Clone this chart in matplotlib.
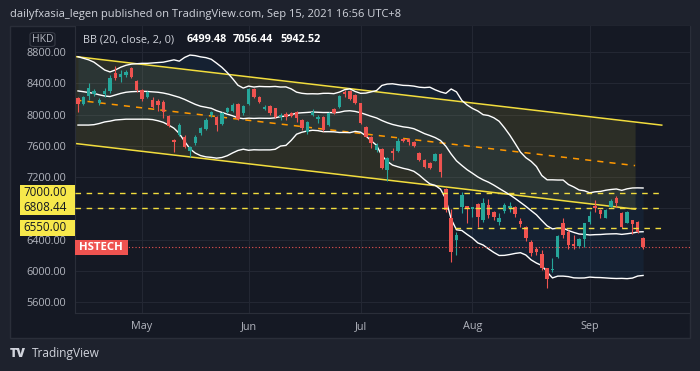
import matplotlib
matplotlib.use("Agg")
import matplotlib.pyplot as plt
from matplotlib.patches import Rectangle, FancyBboxPatch
from matplotlib.transforms import blended_transform_factory
import numpy as np
import pandas as pd

# daily candles, HSTECH, 15 Apr 2021 .. 15 Sep 2021 (index = trading day)
opens = [8207, 8134, 8237, 8262, 8151, 8262, 8301, 8527, 8476, 8506, 8591, 8429, 8314, 8230, 8186, 8173,
         8160, 7981, 7680, 7744, 7718, 7533, 7631, 7757, 7814, 8000, 7968, 7878, 8036, 8051, 8130, 8019,
         8138, 8323, 8230, 8066, 8113, 8079, 7972, 8006, 8015, 8036, 7930, 7780, 7994, 7938, 7964, 7866,
         8066, 8100, 8292, 8301, 8250, 8143, 7840, 7708, 7546, 7555, 7296, 7537, 7539, 7683, 7683, 7652,
         7507, 7418, 7383, 7411, 7490, 7042, 6671, 6394, 6812, 6829, 6787, 6850, 6650, 6842, 6756, 6620,
         6769, 6799, 6812, 6637, 6564, 6372, 6274, 6214, 6031, 6010, 6172, 6607, 6500, 6342, 6317, 6403,
         6620, 6829, 6778, 6679, 6820, 6927, 6735, 6615, 6650, 6628, 6423]
highs = [8228, 8237, 8399, 8326, 8211, 8339, 8506, 8621, 8570, 8570, 8608, 8442, 8326, 8301, 8224, 8198,
         8186, 7994, 7686, 7891, 7738, 7597, 7738, 7840, 7955, 8051, 7981, 8036, 8100, 8143, 8143, 8122,
         8335, 8335, 8243, 8122, 8122, 8089, 8015, 8036, 8032, 8045, 7938, 7921, 8066, 7994, 7981, 8036,
         8083, 8250, 8314, 8314, 8262, 8147, 7853, 7725, 7629, 7571, 7456, 7567, 7695, 7693, 7699, 7667,
         7514, 7430, 7396, 7503, 7501, 7059, 6787, 6500, 7012, 6835, 6822, 6863, 6927, 6915, 6765, 6743,
         6863, 6884, 6829, 6671, 6573, 6393, 6308, 6266, 6035, 6159, 6458, 6671, 6522, 6458, 6419, 6611,
         6765, 6906, 6786, 6790, 6915, 6957, 6746, 6765, 6656, 6643, 6436]
lows = [8028, 8122, 8186, 8237, 8122, 8224, 8275, 8442, 8416, 8480, 8467, 8288, 8179, 8211, 8083, 8045,
        7955, 7840, 7524, 7725, 7571, 7450, 7610, 7738, 7802, 7974, 7793, 7866, 8023, 8036, 7930, 7994,
        8122, 8207, 8147, 8053, 7994, 7955, 7930, 7930, 7968, 7908, 7801, 7750, 7981, 7887, 7795, 7853,
        8006, 8089, 8228, 8186, 8134, 7878, 7706, 7571, 7524, 7298, 7153, 7418, 7524, 7648, 7610, 7590,
        7405, 7311, 7302, 7405, 7204, 6756, 6116, 6202, 6735, 6615, 6692, 6564, 6628, 6671, 6650, 6586,
        6735, 6756, 6684, 6564, 6385, 6189, 6202, 6010, 5775, 5988, 6163, 6415, 6275, 6275, 6287, 6308,
        6598, 6756, 6671, 6671, 6812, 6812, 6543, 6607, 6465, 6479, 6282]
closes = [8130, 8220, 8339, 8305, 8192, 8307, 8467, 8467, 8518, 8544, 8480, 8314, 8198, 8288, 8100, 8122,
          8032, 7859, 7654, 7866, 7590, 7580, 7718, 7823, 7930, 8036, 7866, 8015, 8079, 8128, 7946, 8109,
          8323, 8224, 8160, 8100, 8023, 7972, 7994, 7964, 7981, 7951, 7823, 7908, 8036, 7972, 7801, 8023,
          8015, 8237, 8258, 8198, 8147, 7887, 7716, 7631, 7610, 7311, 7439, 7511, 7661, 7657, 7652, 7603,
          7418, 7328, 7318, 7494, 7268, 6784, 6244, 6458, 6970, 6787, 6812, 6692, 6863, 6714, 6692, 6671,
          6842, 6829, 6722, 6595, 6415, 6223, 6244, 6035, 5891, 6022, 6449, 6458, 6330, 6317, 6403, 6607,
          6701, 6799, 6726, 6778, 6893, 6863, 6564, 6756, 6598, 6500, 6300]

# BB values for the first 19 days (their 20-day window starts before the chart)
bb_upper_early = [8740, 8720, 8700, 8670, 8620, 8570, 8545, 8570, 8605, 8630, 8645, 8650, 8655, 8655,
                  8660, 8665, 8670, 8685, 8700]
bb_mid_early = [8302, 8292, 8282, 8270, 8252, 8237, 8230, 8250, 8270, 8285, 8292, 8295, 8297, 8295,
                8290, 8285, 8275, 8260, 8240]
bb_lower_early = [7865, 7865, 7865, 7870, 7885, 7905, 7915, 7930, 7935, 7940, 7940, 7940, 7940, 7940,
                  7935, 7920, 7900, 7865, 7825]

month_pos = [12, 32, 53, 74, 96]
month_labels = ["May", "Jun", "Jul", "Aug", "Sep"]
price_ticks = [5600, 6000, 6400, 7200, 7600, 8000, 8400, 8800]

# parallel channel (drawn)
chan_x = [-0.5, 104.5]
chan_top = [8742, 7903]
chan_bottom = [7629, 6789]
top_ext_x = [-0.5, 109.5]
top_ext = [8742, 7864]

levels = [7000, 6808.44, 6550]
level_start = [-0.5, -0.5, 70.7]
level_end = 109.6
level_labels = ["7000.00", "6808.44", "6550.00"]

# ---- BB(20, close, 2)
c = pd.Series(closes, dtype=float)
mid = c.rolling(20).mean().values
sd = c.rolling(20).std(ddof=0).values
upper = mid + 2 * sd
lower = mid - 2 * sd
n0 = len(bb_mid_early)
mid[:n0] = bb_mid_early
upper[:n0] = bb_upper_early
lower[:n0] = bb_lower_early

page = "#1e222d"
panel = "#151924"
grid = "#232733"
txt = "#b2b5be"
up_c = "#26a69a"
dn_c = "#ef5350"
yellow = "#f2dd3d"

W, H = 700, 371
fig = plt.figure(figsize=(7, 3.71), dpi=100)
fig.patch.set_facecolor(page)
plt.rcParams['font.family'] = ['Open Sans', 'DejaVu Sans']

fig.patches.append(Rectangle((10 / W, 1 - 338 / H), 680 / W, 312 / H, transform=fig.transFigure,
                             facecolor=panel, edgecolor="#2a2e39", lw=1, zorder=-5))

ax = fig.add_axes([75 / W, 1 - 312.7 / H, 615 / W, 286.7 / H])
ax.set_facecolor(panel)
ax.set_xlim(-0.56, 114.8)
ax.set_ylim(5463, 9133)

x = np.arange(len(closes))

for p in price_ticks + [6800]:
    ax.axhline(p, color=grid, lw=0.8, zorder=0)
for p in month_pos:
    ax.axvline(p, color=grid, lw=0.8, zorder=0)

# channel
ax.fill_between(chan_x, chan_bottom, chan_top, color="#ffeb3b", alpha=0.10, lw=0, zorder=1)
ax.plot(top_ext_x, top_ext, color=yellow, lw=1.1, zorder=2)
ax.plot(chan_x, chan_bottom, color=yellow, lw=1.1, zorder=2)
ax.plot(chan_x, [(a + b) / 2 for a, b in zip(chan_top, chan_bottom)], color="#ff9800",
        lw=1.1, dashes=(4, 4), zorder=2)

# bollinger
ax.fill_between(x, lower, upper, color="#2196f3", alpha=0.07, lw=0, zorder=1)
for band in (upper, mid, lower):
    ax.plot(x, band, color="white", lw=1, zorder=3)

# candles
for i in x:
    o, h, l, cl = opens[i], highs[i], lows[i], closes[i]
    col = up_c if cl >= o else dn_c
    ax.vlines(i, l, h, color=col, lw=0.8, zorder=4)
    ax.bar(i, max(abs(cl - o), 12), bottom=min(o, cl), width=0.64, color=col, lw=0, zorder=4)

# horizontal levels
for lv, xs in zip(levels, level_start):
    ax.plot([xs, level_end], [lv, lv], color=yellow, lw=1, dashes=(4, 4), zorder=5)
ax.axhline(closes[-1], color=dn_c, lw=0.8, ls=(0, (1, 2)), zorder=5)

for s in ax.spines.values():
    s.set_visible(False)
ax.spines["left"].set_visible(True)
ax.spines["bottom"].set_visible(True)
ax.spines["left"].set_color("#2a2e39")
ax.spines["bottom"].set_color("#2a2e39")

ax.set_yticks(price_ticks)
ax.set_yticklabels([f"{p:.2f}" for p in price_ticks])
ax.set_xticks(month_pos)
ax.set_xticklabels(month_labels)
ax.tick_params(length=0, colors=txt, labelsize=7.8)
ax.tick_params(axis="y", pad=6.5)
ax.tick_params(axis="x", pad=6)

# price labels on the axis
tr = blended_transform_factory(fig.transFigure, ax.transData)
for lv, lab in zip(levels, level_labels):
    ax.add_patch(Rectangle((20 / W, lv - 100), 55 / W, 200, transform=tr, facecolor="#f7e84b",
                           edgecolor="none", clip_on=False, zorder=6))
    ax.text(67 / W, lv, lab, transform=tr, ha="right", va="center", fontsize=8.4, color="#131722",
            zorder=7)
ax.add_patch(Rectangle((75 / W, closes[-1] - 95), 53 / W, 190, transform=tr, facecolor=dn_c,
                       edgecolor="none", clip_on=False, zorder=6))
ax.text(79 / W, closes[-1], "HSTECH", transform=tr, ha="left", va="center", fontsize=8.2,
        color="white", fontweight="bold", zorder=7)

# header and legend
fig.text(10 / W, 1 - 14 / H, "dailyfxasia_legen published on TradingView.com, Sep 15, 2021 16:56 UTC+8",
         color="#d1d4dc", fontsize=8.0, va="center")
fig.patches.append(FancyBboxPatch((30 / W, 1 - 46.5 / H), 25 / W, 14 / H, boxstyle="round,pad=0,rounding_size=0.006",
                                  transform=fig.transFigure, facecolor=panel, edgecolor="#363a45", lw=0.8,
                                  zorder=2))
fig.text(42.5 / W, 1 - 39.5 / H, "HKD", color=txt, fontsize=7.6, ha="center", va="center")
fig.text(83 / W, 1 - 40 / H, "BB (20, close, 2, 0)", color="#d1d4dc", fontsize=7.8, va="center")
for xx, val in zip([187, 233, 280], ["6499.48", "7056.44", "5942.52"]):
    fig.text(xx / W, 1 - 40 / H, val, color="white", fontsize=7.8, fontweight="bold", va="center")

fig.text(10 / W, 1 - 354 / H, "TV", color="#d1d4dc", fontsize=9, fontweight="heavy", va="center")
fig.text(32 / W, 1 - 354 / H, "TradingView", color="#d1d4dc", fontsize=8.6, va="center")

fig.savefig("out.png", dpi=100, facecolor=page)
